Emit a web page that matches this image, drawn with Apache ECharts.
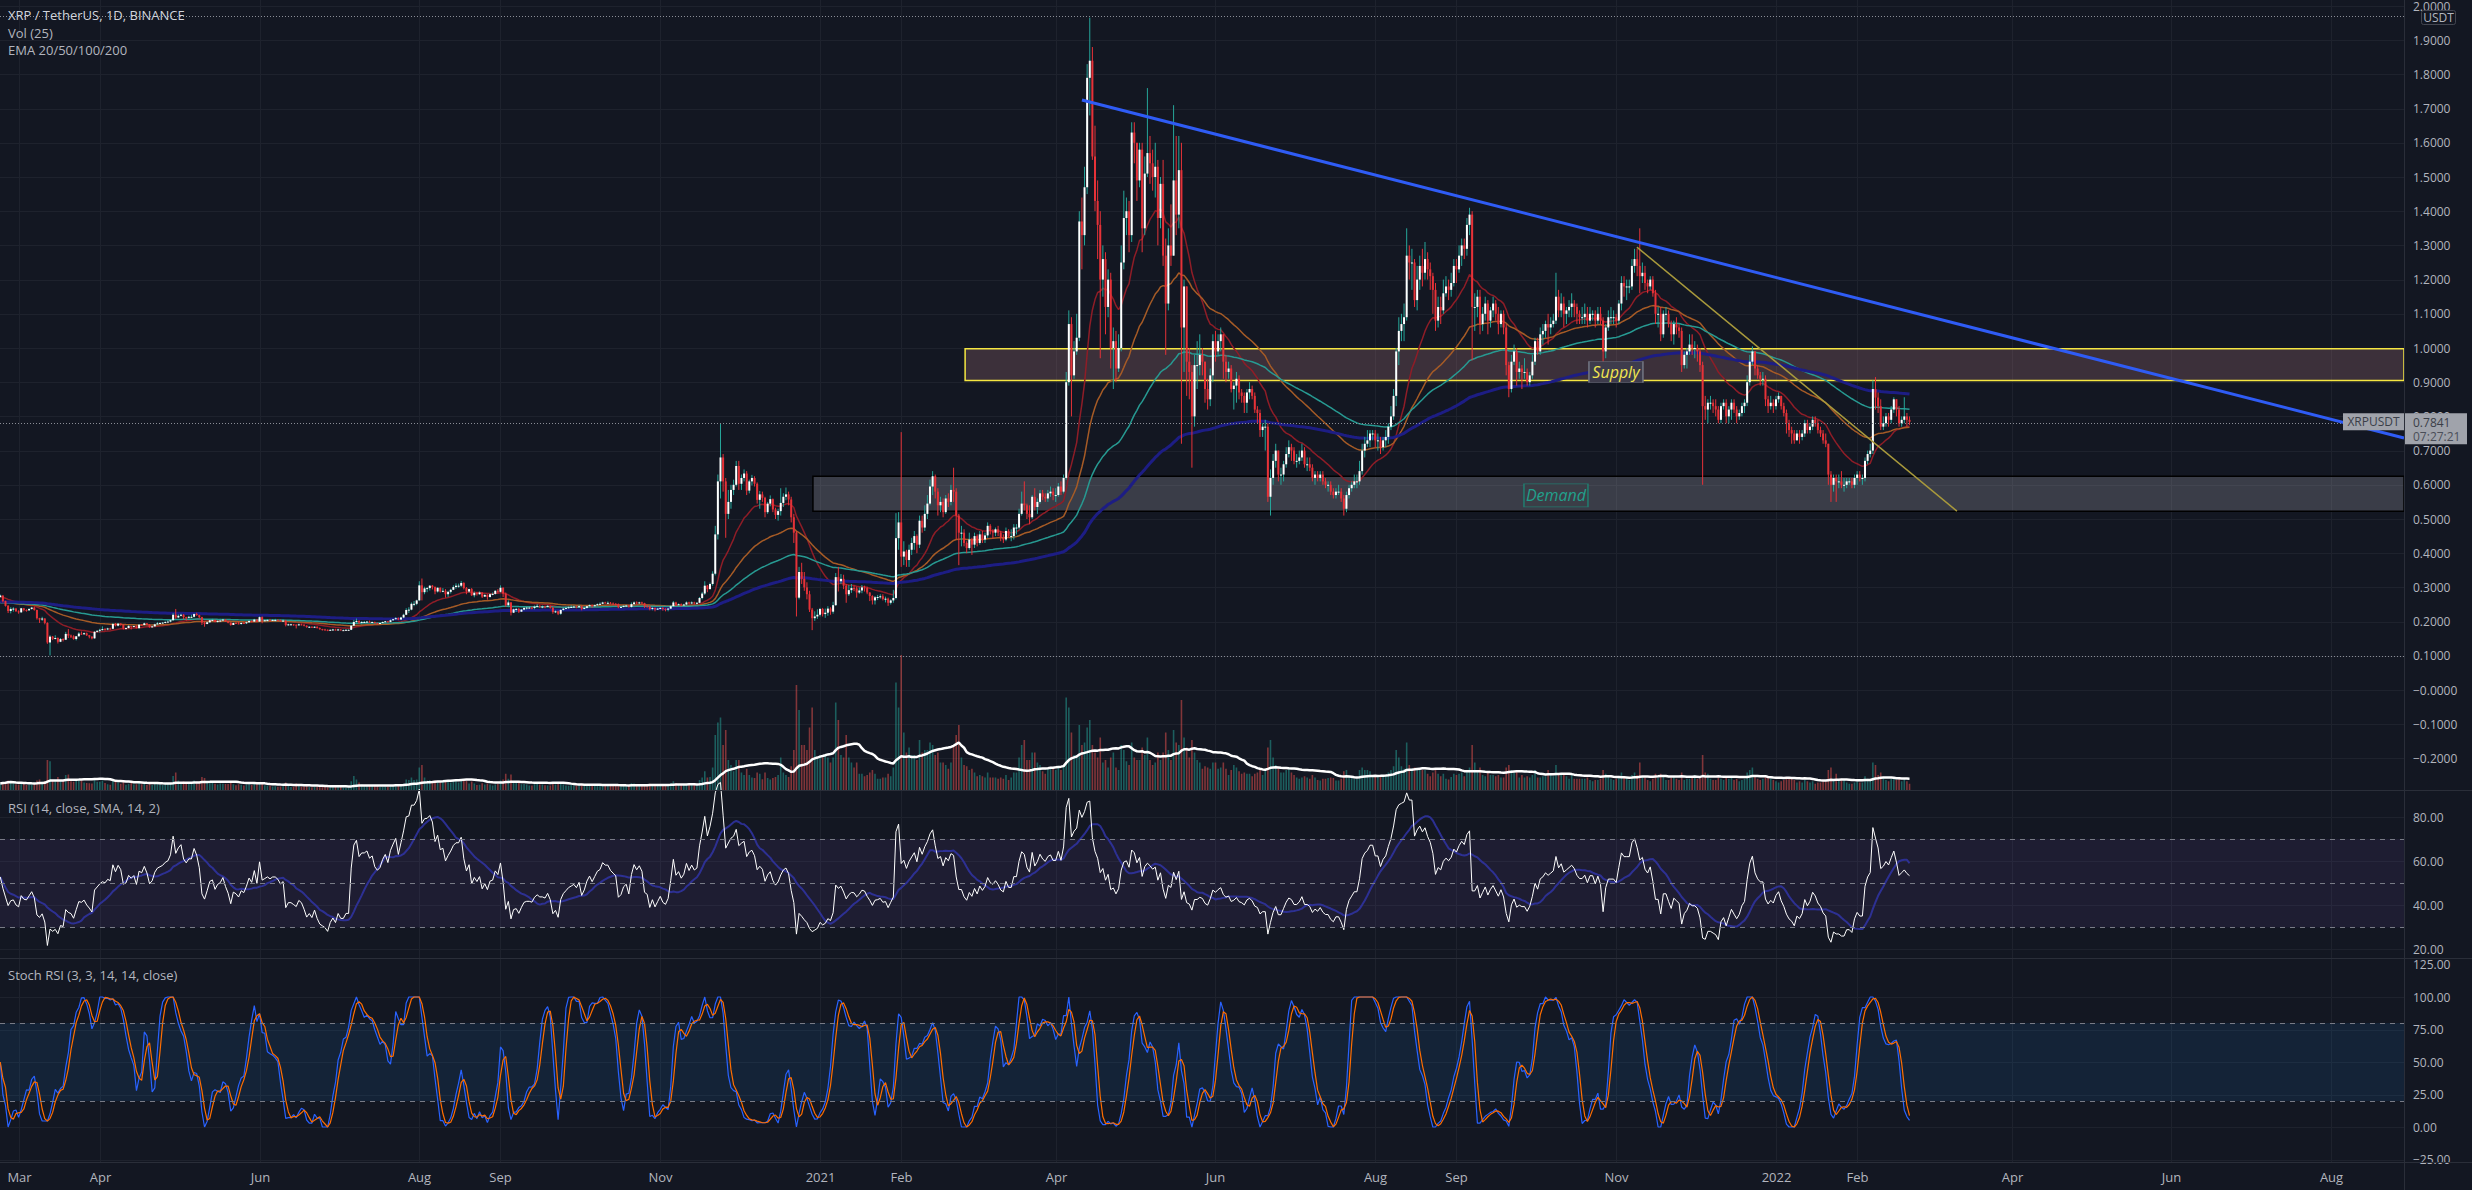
<!DOCTYPE html>
<html><head><meta charset="utf-8">
<script src="https://cdn.jsdelivr.net/npm/echarts@6/dist/echarts.min.js"></script>
<style>html,body{margin:0;padding:0;background:#131722;overflow:hidden}#c{width:2472px;height:1190px}</style>
</head><body><div id="c"></div><script>
// ---- daily candles: [close, high, low, volume(M XRP)] ; open = previous close ----
const firstOpen = 0.272;
const feb2020 = [[0.276,0.279,0.270,260],[0.260,0.277,0.256,300],[0.246,0.261,0.244,310],[0.231,0.248,0.225,380],[0.237,0.242,0.224,330],[0.238,0.242,0.229,300],[0.230,0.240,0.229,230]];
const mar2020 = [[0.227,0.233,0.223,220],[0.239,0.240,0.226,260],[0.234,0.240,0.230,240],[0.233,0.236,0.229,200],[0.237,0.239,0.231,210],[0.241,0.243,0.235,220],[0.234,0.244,0.232,230],[0.210,0.235,0.206,380],[0.206,0.211,0.196,420],[0.209,0.214,0.202,330],
[0.196,0.210,0.192,360],[0.139,0.198,0.135,1200],[0.156,0.160,0.101,1150],[0.150,0.158,0.146,400],[0.152,0.160,0.148,350],[0.141,0.154,0.136,520],[0.149,0.152,0.140,400],[0.147,0.151,0.142,380],[0.164,0.170,0.146,600],[0.159,0.178,0.152,620],
[0.157,0.162,0.152,350],[0.149,0.160,0.147,330],[0.157,0.158,0.145,380],[0.165,0.169,0.156,420],[0.164,0.171,0.161,380],[0.166,0.168,0.161,300],[0.160,0.168,0.158,280],[0.156,0.161,0.151,270],[0.151,0.157,0.148,260],[0.170,0.172,0.150,420],[0.173,0.175,0.168,330]];
const apr2020 = [[0.176,0.179,0.168,330],[0.178,0.186,0.174,380],[0.177,0.181,0.174,280],[0.180,0.182,0.175,230],[0.179,0.182,0.176,210],[0.193,0.196,0.178,420],[0.188,0.196,0.186,340],[0.194,0.196,0.186,300],[0.191,0.195,0.188,250],[0.180,0.192,0.177,330],
[0.181,0.183,0.178,210],[0.187,0.190,0.180,250],[0.185,0.187,0.177,280],[0.187,0.188,0.184,220],[0.181,0.189,0.180,230],[0.191,0.193,0.178,340],[0.190,0.193,0.188,230],[0.195,0.197,0.189,240],[0.191,0.196,0.189,210],[0.184,0.193,0.182,260],
[0.186,0.188,0.183,200],[0.192,0.194,0.185,240],[0.195,0.199,0.190,290],[0.196,0.198,0.193,230],[0.197,0.199,0.194,200],[0.199,0.201,0.195,230],[0.200,0.205,0.198,280],[0.204,0.206,0.198,260],[0.220,0.225,0.203,560],[0.212,0.237,0.208,700]];
const may2020 = [[0.217,0.221,0.210,380],[0.220,0.223,0.215,300],[0.213,0.222,0.207,340],[0.211,0.214,0.203,320],[0.214,0.217,0.209,280],[0.214,0.220,0.211,300],[0.222,0.224,0.212,380],[0.219,0.226,0.217,330],[0.213,0.220,0.210,280],[0.197,0.214,0.190,520],
[0.193,0.201,0.185,480],[0.198,0.200,0.192,300],[0.204,0.206,0.196,300],[0.205,0.208,0.201,280],[0.199,0.206,0.198,250],[0.202,0.204,0.197,220],[0.203,0.208,0.200,260],[0.206,0.208,0.201,250],[0.201,0.207,0.199,240],[0.197,0.202,0.195,240],
[0.190,0.198,0.188,290],[0.196,0.197,0.190,230],[0.195,0.198,0.193,190],[0.193,0.200,0.192,230],[0.196,0.198,0.191,210],[0.195,0.198,0.193,180],[0.198,0.200,0.193,220],[0.202,0.204,0.196,240],[0.200,0.204,0.198,200],[0.206,0.208,0.199,260],[0.200,0.207,0.199,230]];
const jun2020 = [[0.213,0.215,0.199,300],[0.203,0.215,0.195,320],[0.204,0.206,0.200,190],[0.205,0.207,0.200,180],[0.204,0.208,0.201,170],[0.205,0.207,0.202,140],[0.205,0.208,0.200,150],[0.204,0.207,0.202,130],[0.202,0.206,0.200,140],[0.203,0.206,0.200,150],
[0.190,0.205,0.186,300],[0.192,0.194,0.188,180],[0.192,0.194,0.190,120],[0.191,0.193,0.188,120],[0.190,0.192,0.180,260],[0.192,0.194,0.188,170],[0.191,0.194,0.189,140],[0.188,0.192,0.186,140],[0.184,0.189,0.182,160],[0.185,0.186,0.182,120],
[0.183,0.186,0.182,110],[0.185,0.186,0.182,130],[0.181,0.186,0.180,140],[0.178,0.183,0.176,170],[0.177,0.179,0.174,150],[0.176,0.179,0.174,140],[0.174,0.177,0.172,140],[0.176,0.177,0.173,110],[0.177,0.179,0.174,120],[0.175,0.179,0.174,120]];
const jul2020 = [[0.177,0.179,0.174,130],[0.175,0.178,0.174,120],[0.175,0.177,0.174,100],[0.176,0.178,0.174,90],[0.176,0.177,0.174,90],[0.188,0.190,0.175,350],[0.199,0.205,0.187,560],[0.202,0.209,0.195,420],[0.197,0.204,0.193,300],[0.199,0.201,0.192,220],
[0.199,0.202,0.197,170],[0.200,0.202,0.196,170],[0.198,0.203,0.196,180],[0.199,0.200,0.195,160],[0.196,0.200,0.194,160],[0.195,0.197,0.191,160],[0.196,0.197,0.193,120],[0.199,0.200,0.195,130],[0.201,0.202,0.197,140],[0.199,0.202,0.197,130],
[0.204,0.206,0.198,180],[0.207,0.208,0.202,180],[0.210,0.213,0.206,210],[0.206,0.212,0.204,170],[0.212,0.214,0.205,190],[0.220,0.223,0.210,260],[0.234,0.239,0.219,420],[0.235,0.242,0.225,400],[0.252,0.256,0.233,500],[0.252,0.260,0.245,400],[0.262,0.264,0.248,420]];
const aug2020 = [[0.306,0.318,0.261,900],[0.286,0.326,0.262,1000],[0.297,0.302,0.280,500],[0.298,0.301,0.286,380],[0.305,0.307,0.291,400],[0.301,0.307,0.294,340],[0.288,0.303,0.280,380],[0.299,0.300,0.285,320],[0.288,0.300,0.285,300],[0.290,0.298,0.286,330],
[0.280,0.295,0.270,380],[0.287,0.290,0.272,330],[0.293,0.296,0.282,300],[0.301,0.306,0.292,360],[0.305,0.312,0.296,380],[0.305,0.311,0.299,300],[0.313,0.319,0.301,420],[0.298,0.315,0.294,380],[0.288,0.301,0.280,380],[0.295,0.296,0.285,260],
[0.277,0.298,0.275,340],[0.284,0.288,0.271,260],[0.280,0.286,0.276,200],[0.285,0.288,0.279,210],[0.273,0.286,0.269,270],[0.278,0.280,0.272,220],[0.272,0.280,0.264,260],[0.280,0.282,0.270,220],[0.281,0.285,0.277,180],[0.290,0.292,0.279,220],[0.287,0.295,0.283,240]];
const sep2020 = [[0.299,0.306,0.285,380],[0.282,0.300,0.272,420],[0.248,0.285,0.243,650],[0.256,0.262,0.242,450],[0.226,0.257,0.218,620],[0.236,0.238,0.225,340],[0.237,0.240,0.228,300],[0.229,0.240,0.225,290],[0.235,0.237,0.228,230],[0.240,0.244,0.233,240],
[0.241,0.244,0.235,220],[0.241,0.245,0.238,180],[0.240,0.244,0.236,180],[0.244,0.247,0.236,230],[0.246,0.251,0.242,250],[0.244,0.248,0.240,220],[0.244,0.247,0.239,220],[0.243,0.246,0.239,190],[0.246,0.248,0.242,180],[0.241,0.247,0.238,180],
[0.228,0.243,0.223,320],[0.230,0.233,0.225,220],[0.223,0.232,0.219,260],[0.234,0.236,0.220,260],[0.238,0.242,0.232,230],[0.240,0.244,0.236,180],[0.242,0.245,0.238,170],[0.243,0.248,0.240,210],[0.244,0.247,0.240,180],[0.242,0.245,0.239,170]];
const oct2020 = [[0.245,0.249,0.240,200],[0.237,0.246,0.233,240],[0.240,0.242,0.236,160],[0.245,0.246,0.238,160],[0.248,0.250,0.243,190],[0.245,0.250,0.241,200],[0.248,0.250,0.243,170],[0.251,0.253,0.245,200],[0.252,0.256,0.249,190],[0.256,0.258,0.251,200],
[0.255,0.258,0.253,160],[0.255,0.259,0.251,190],[0.253,0.257,0.251,170],[0.252,0.256,0.249,170],[0.251,0.254,0.247,180],[0.242,0.253,0.239,240],[0.243,0.245,0.240,150],[0.246,0.248,0.242,160],[0.247,0.249,0.243,170],[0.243,0.249,0.241,190],
[0.251,0.256,0.241,270],[0.256,0.259,0.249,260],[0.254,0.259,0.251,210],[0.256,0.258,0.252,180],[0.254,0.258,0.251,180],[0.245,0.255,0.240,240],[0.244,0.248,0.241,210],[0.237,0.246,0.233,250],[0.240,0.242,0.233,230],[0.236,0.241,0.230,240],[0.238,0.240,0.234,180]];
const nov2020 = [[0.240,0.242,0.236,170],[0.237,0.242,0.232,190],[0.236,0.239,0.230,210],[0.238,0.240,0.230,220],[0.245,0.248,0.237,280],[0.256,0.260,0.244,350],[0.249,0.258,0.245,280],[0.251,0.253,0.246,220],[0.248,0.253,0.244,230],[0.250,0.252,0.246,200],
[0.256,0.259,0.248,250],[0.253,0.258,0.250,230],[0.256,0.259,0.251,220],[0.254,0.258,0.250,200],[0.255,0.257,0.250,190],[0.269,0.272,0.254,400],[0.282,0.287,0.265,500],[0.305,0.318,0.278,750],[0.295,0.307,0.286,500],[0.310,0.314,0.294,520],
[0.340,0.347,0.305,900],[0.455,0.480,0.335,2200],[0.610,0.630,0.440,2700],[0.680,0.780,0.560,2900],[0.610,0.690,0.580,1800],[0.515,0.620,0.445,2400],[0.550,0.585,0.500,1200],[0.585,0.600,0.530,1000],[0.600,0.615,0.570,750],[0.655,0.670,0.595,1200]];
const dec2020 = [[0.603,0.670,0.585,1200],[0.620,0.630,0.585,700],[0.633,0.645,0.610,600],[0.583,0.640,0.570,850],[0.610,0.615,0.575,600],[0.620,0.629,0.598,500],[0.603,0.625,0.595,480],[0.556,0.607,0.545,700],[0.572,0.582,0.530,650],[0.562,0.580,0.550,430],
[0.520,0.565,0.505,700],[0.545,0.550,0.515,480],[0.558,0.569,0.537,420],[0.528,0.560,0.520,480],[0.512,0.533,0.500,520],[0.523,0.530,0.495,600],[0.547,0.590,0.510,1300],[0.565,0.575,0.535,700],[0.572,0.592,0.555,600],[0.557,0.580,0.540,520],
[0.505,0.565,0.490,950],[0.460,0.515,0.430,1600],[0.270,0.465,0.215,4200],[0.345,0.360,0.265,3200],[0.325,0.372,0.310,1800],[0.300,0.345,0.290,1800],[0.280,0.315,0.265,1600],[0.235,0.290,0.228,2500],[0.210,0.240,0.175,3300],[0.215,0.230,0.202,1600],[0.220,0.236,0.208,1300]];
const jan2021 = [[0.237,0.240,0.215,1400],[0.222,0.240,0.215,1300],[0.226,0.238,0.211,1400],[0.238,0.245,0.217,1300],[0.229,0.242,0.220,1100],[0.248,0.258,0.223,1300],[0.330,0.342,0.246,3500],[0.318,0.360,0.288,2800],[0.325,0.339,0.310,1400],[0.305,0.337,0.295,1300],
[0.280,0.310,0.255,2200],[0.292,0.307,0.275,1300],[0.298,0.310,0.284,1100],[0.297,0.306,0.289,900],[0.285,0.302,0.270,1100],[0.291,0.300,0.281,650],[0.300,0.307,0.283,650],[0.298,0.305,0.288,550],[0.285,0.302,0.280,600],[0.275,0.286,0.260,700],
[0.262,0.277,0.250,800],[0.271,0.275,0.250,650],[0.272,0.278,0.263,450],[0.274,0.280,0.267,450],[0.266,0.280,0.262,500],[0.267,0.273,0.256,500],[0.255,0.270,0.246,650],[0.262,0.265,0.250,550],[0.269,0.293,0.255,900],[0.444,0.517,0.265,4300],[0.490,0.520,0.410,3300]];
const feb2021 = [[0.390,0.754,0.360,5400],[0.405,0.435,0.365,2300],[0.380,0.410,0.360,1500],[0.410,0.425,0.360,1700],[0.430,0.445,0.395,1400],[0.450,0.465,0.410,1400],[0.425,0.455,0.400,1200],[0.495,0.510,0.415,2000],[0.475,0.510,0.460,1500],[0.515,0.540,0.465,1600],
[0.545,0.570,0.500,1600],[0.595,0.615,0.540,1900],[0.625,0.640,0.570,1800],[0.580,0.630,0.560,1400],[0.540,0.590,0.510,1500],[0.550,0.565,0.520,1100],[0.520,0.560,0.505,1100],[0.560,0.570,0.515,1000],[0.550,0.575,0.535,850],[0.585,0.600,0.540,1100],
[0.580,0.650,0.550,1800],[0.510,0.590,0.440,2200],[0.460,0.515,0.365,2600],[0.460,0.480,0.420,1300],[0.430,0.470,0.420,1000],[0.415,0.435,0.400,950],[0.440,0.460,0.410,800],[0.425,0.445,0.395,850]];
const mar2021 = [[0.450,0.460,0.415,700],[0.430,0.455,0.420,550],[0.455,0.465,0.425,600],[0.440,0.465,0.430,550],[0.452,0.460,0.430,500],[0.480,0.490,0.445,700],[0.465,0.485,0.455,500],[0.460,0.470,0.442,500],[0.470,0.475,0.450,500],[0.460,0.480,0.450,450],
[0.445,0.465,0.435,500],[0.440,0.455,0.430,450],[0.465,0.475,0.435,600],[0.450,0.470,0.445,400],[0.450,0.470,0.435,500],[0.475,0.485,0.440,700],[0.475,0.485,0.455,700],[0.515,0.530,0.470,1300],[0.545,0.580,0.510,1800],[0.540,0.610,0.525,2000],
[0.515,0.545,0.500,1200],[0.505,0.540,0.485,1200],[0.565,0.570,0.500,1500],[0.535,0.590,0.525,1500],[0.550,0.560,0.515,1100],[0.575,0.585,0.545,1000],[0.565,0.585,0.555,750],[0.560,0.575,0.550,650],[0.575,0.585,0.550,850],[0.580,0.595,0.565,850],[0.570,0.590,0.555,850]];
const apr2021 = [[0.570,0.590,0.550,800],[0.595,0.605,0.565,900],[0.580,0.610,0.570,800],[0.620,0.630,0.575,1000],[0.900,0.930,0.615,3700],[1.070,1.110,0.890,3300],[0.920,1.090,0.800,2300],[0.990,1.020,0.910,1400],[1.030,1.100,0.980,1400],[1.370,1.400,1.020,2600],
[1.330,1.440,1.230,1800],[1.470,1.530,1.300,1900],[1.790,1.830,1.450,2500],[1.840,1.966,1.680,2800],[1.560,1.880,1.550,1800],[1.430,1.650,1.400,1500],[1.360,1.490,1.260,1300],[1.200,1.400,0.970,2100],[1.260,1.300,1.150,1100],[1.120,1.280,1.040,1200],
[1.200,1.230,1.090,900],[1.000,1.220,0.940,1300],[1.020,1.060,0.880,1500],[0.940,1.050,0.900,900],[1.000,1.040,0.930,800],[1.250,1.300,0.990,1800],[1.380,1.460,1.230,1600],[1.400,1.440,1.330,1150],[1.330,1.430,1.280,1000],[1.630,1.660,1.310,1900]];
const may2021 = [[1.600,1.660,1.540,1300],[1.490,1.600,1.430,1200],[1.580,1.600,1.470,1200],[1.350,1.600,1.280,1700],[1.510,1.560,1.330,1400],[1.570,1.760,1.500,2100],[1.540,1.620,1.480,1200],[1.500,1.580,1.460,1000],[1.530,1.600,1.440,1100],[1.380,1.550,1.300,1500],
[1.480,1.500,1.350,1200],[1.270,1.550,1.240,1500],[1.130,1.320,0.980,2300],[1.300,1.350,1.110,1600],[1.270,1.420,1.240,1200],[1.490,1.710,1.300,2400],[1.390,1.620,1.330,1900],[1.520,1.620,1.350,1800],[1.060,1.600,0.720,3600],[1.180,1.200,0.930,2100],
[0.960,1.150,0.860,1700],[0.930,1.000,0.850,1300],[0.800,0.950,0.650,2000],[0.950,0.980,0.770,1500],[0.950,1.020,0.880,1200],[0.980,1.040,0.920,1100],[0.960,1.000,0.920,850],[0.880,0.960,0.840,950],[0.850,0.910,0.820,900],[0.920,0.940,0.830,850],[1.020,1.040,0.900,1100]];
const jun2021 = [[0.990,1.050,0.960,1100],[1.020,1.040,0.980,850],[1.040,1.060,0.990,900],[0.960,1.040,0.910,1100],[0.930,0.980,0.900,850],[0.940,0.960,0.910,600],[0.880,0.950,0.870,800],[0.890,0.900,0.820,1000],[0.910,0.930,0.840,900],[0.870,0.920,0.850,750],
[0.860,0.880,0.840,650],[0.840,0.870,0.810,700],[0.870,0.880,0.810,650],[0.880,0.900,0.850,650],[0.860,0.890,0.850,550],[0.820,0.870,0.810,650],[0.810,0.830,0.780,700],[0.760,0.820,0.740,850],[0.770,0.780,0.740,600],[0.770,0.790,0.700,800],
[0.565,0.780,0.550,1700],[0.620,0.645,0.510,2000],[0.670,0.690,0.600,1300],[0.700,0.720,0.650,1000],[0.630,0.700,0.610,900],[0.630,0.650,0.600,700],[0.660,0.670,0.610,700],[0.690,0.710,0.650,800],[0.710,0.730,0.680,900],[0.700,0.720,0.670,700]];
const jul2021 = [[0.670,0.710,0.660,600],[0.670,0.690,0.650,500],[0.680,0.700,0.660,450],[0.700,0.720,0.670,500],[0.660,0.710,0.650,550],[0.660,0.680,0.640,500],[0.650,0.680,0.640,450],[0.620,0.660,0.610,600],[0.630,0.640,0.600,500],[0.620,0.640,0.610,400],
[0.630,0.640,0.610,380],[0.610,0.640,0.600,450],[0.600,0.620,0.590,450],[0.600,0.610,0.580,480],[0.580,0.610,0.570,500],[0.570,0.590,0.560,480],[0.580,0.590,0.560,380],[0.580,0.600,0.570,380],[0.560,0.590,0.550,450],[0.530,0.570,0.510,750],
[0.570,0.580,0.520,800],[0.590,0.600,0.560,600],[0.600,0.610,0.580,500],[0.610,0.630,0.590,450],[0.610,0.630,0.590,450],[0.640,0.670,0.600,800],[0.700,0.720,0.630,900],[0.720,0.740,0.680,800],[0.730,0.760,0.710,800],[0.750,0.760,0.710,750],[0.750,0.760,0.730,550]];
const aug2021 = [[0.730,0.760,0.710,550],[0.730,0.750,0.700,550],[0.710,0.740,0.690,600],[0.730,0.740,0.700,550],[0.740,0.760,0.710,600],[0.770,0.780,0.720,700],[0.800,0.830,0.760,800],[0.860,0.880,0.790,950],[0.990,1.000,0.830,1600],[1.050,1.090,0.950,1300],
[1.070,1.100,1.020,950],[1.090,1.130,1.020,850],[1.270,1.350,1.080,1900],[1.250,1.300,1.200,1000],[1.250,1.290,1.170,850],[1.140,1.260,1.120,900],[1.200,1.240,1.110,850],[1.240,1.270,1.170,800],[1.220,1.290,1.180,800],[1.260,1.310,1.200,800],
[1.230,1.280,1.200,650],[1.210,1.250,1.170,550],[1.170,1.220,1.100,700],[1.080,1.190,1.050,850],[1.120,1.150,1.060,650],[1.110,1.150,1.070,550],[1.160,1.200,1.100,650],[1.180,1.210,1.150,450],[1.170,1.200,1.140,420],[1.190,1.220,1.150,520],[1.240,1.260,1.180,650]];
const sep2021 = [[1.230,1.260,1.190,600],[1.270,1.300,1.220,650],[1.300,1.320,1.240,700],[1.290,1.320,1.260,550],[1.360,1.380,1.270,800],[1.390,1.410,1.330,900],[1.120,1.400,0.964,1800],[1.120,1.160,1.050,1100],[1.150,1.170,1.090,800],[1.070,1.170,1.040,900],
[1.100,1.120,1.050,600],[1.130,1.150,1.080,550],[1.080,1.140,1.040,700],[1.110,1.120,1.060,600],[1.130,1.150,1.090,600],[1.100,1.140,1.080,550],[1.070,1.120,1.040,600],[1.100,1.110,1.060,500],[1.060,1.110,1.040,500],[0.950,1.070,0.920,900],
[0.880,0.960,0.856,1000],[0.960,0.980,0.870,800],[0.990,1.010,0.950,700],[0.930,1.000,0.890,800],[0.940,0.960,0.910,500],[0.930,0.950,0.880,600],[0.930,0.970,0.910,500],[0.900,0.940,0.890,550],[0.920,0.930,0.890,500],[0.960,0.980,0.910,600]];
const oct2021 = [[1.020,1.030,0.950,800],[0.990,1.030,0.980,500],[1.040,1.060,0.980,500],[1.050,1.070,1.010,550],[1.070,1.080,1.030,550],[1.060,1.100,1.010,800],[1.070,1.090,1.040,600],[1.080,1.100,1.060,550],[1.150,1.220,1.070,1000],[1.110,1.170,1.090,650],
[1.130,1.160,1.090,600],[1.100,1.150,1.060,650],[1.110,1.120,1.070,550],[1.120,1.140,1.090,450],[1.130,1.160,1.090,600],[1.120,1.140,1.090,450],[1.100,1.130,1.070,450],[1.090,1.110,1.070,450],[1.090,1.120,1.070,450],[1.100,1.130,1.070,450],
[1.080,1.120,1.060,500],[1.100,1.120,1.070,400],[1.100,1.110,1.080,350],[1.080,1.110,1.060,400],[1.100,1.120,1.070,400],[1.080,1.120,1.070,450],[0.990,1.090,0.955,800],[1.060,1.070,0.970,650],[1.090,1.110,1.050,550],[1.090,1.120,1.070,450],[1.090,1.110,1.070,400]];
const nov2021 = [[1.080,1.100,1.060,450],[1.130,1.140,1.070,550],[1.190,1.210,1.110,700],[1.180,1.210,1.150,550],[1.180,1.200,1.140,500],[1.180,1.200,1.160,400],[1.240,1.260,1.170,600],[1.260,1.290,1.220,700],[1.240,1.290,1.210,600],[1.210,1.350,1.160,1100],
[1.220,1.250,1.190,550],[1.190,1.240,1.170,500],[1.180,1.200,1.160,400],[1.200,1.210,1.170,350],[1.160,1.210,1.150,450],[1.100,1.170,1.070,650],[1.100,1.120,1.060,500],[1.040,1.120,1.020,650],[1.100,1.110,1.030,550],[1.100,1.120,1.080,400],
[1.070,1.110,1.060,400],[1.040,1.080,1.020,500],[1.070,1.080,1.010,550],[1.060,1.090,1.040,450],[1.050,1.070,1.030,400],[0.950,1.060,0.930,700],[0.980,0.990,0.940,400],[0.990,1.000,0.940,450],[1.010,1.040,0.980,450],[1.000,1.040,0.980,500]];
const dec2021 = [[1.000,1.020,0.970,600],[0.990,1.010,0.960,450],[0.950,1.000,0.930,550],[0.830,0.960,0.600,1400],[0.820,0.860,0.790,700],[0.840,0.850,0.780,650],[0.840,0.860,0.820,450],[0.830,0.850,0.810,400],[0.820,0.850,0.800,400],[0.790,0.830,0.780,500],
[0.830,0.840,0.780,450],[0.840,0.850,0.820,400],[0.800,0.850,0.780,550],[0.820,0.830,0.780,450],[0.840,0.850,0.790,550],[0.820,0.850,0.810,400],[0.800,0.830,0.780,450],[0.810,0.820,0.790,350],[0.830,0.840,0.800,400],[0.840,0.850,0.810,450],
[0.900,0.920,0.830,700],[0.960,0.980,0.890,800],[0.990,1.005,0.950,900],[0.940,0.990,0.920,600],[0.920,0.950,0.910,450],[0.910,0.930,0.890,400],[0.910,0.930,0.890,450],[0.850,0.920,0.830,600],[0.830,0.860,0.810,500],[0.840,0.860,0.820,450],[0.830,0.850,0.810,400]];
const jan2022 = [[0.850,0.860,0.820,350],[0.860,0.870,0.840,300],[0.830,0.860,0.820,350],[0.810,0.840,0.800,400],[0.780,0.820,0.750,500],[0.760,0.790,0.740,450],[0.750,0.770,0.720,450],[0.730,0.760,0.720,400],[0.750,0.760,0.730,300],[0.740,0.760,0.720,350],
[0.750,0.760,0.730,300],[0.780,0.790,0.740,400],[0.760,0.790,0.750,350],[0.770,0.780,0.750,300],[0.790,0.800,0.760,350],[0.780,0.800,0.770,250],[0.760,0.790,0.750,300],[0.750,0.770,0.740,300],[0.730,0.760,0.720,350],[0.720,0.750,0.710,350],
[0.630,0.720,0.600,800],[0.600,0.640,0.550,900],[0.620,0.630,0.580,450],[0.610,0.630,0.550,650],[0.610,0.630,0.590,400],[0.600,0.640,0.590,450],[0.600,0.620,0.580,400],[0.610,0.620,0.590,300],[0.610,0.620,0.600,250],[0.600,0.620,0.590,250],[0.620,0.630,0.590,300]];
const feb2022 = [[0.630,0.640,0.600,350],[0.620,0.640,0.610,300],[0.620,0.630,0.600,300],[0.670,0.680,0.610,550],[0.690,0.700,0.660,450],[0.700,0.720,0.680,400],[0.880,0.905,0.690,1100],[0.855,0.915,0.820,1000],[0.830,0.870,0.810,600],[0.770,0.850,0.760,700],
[0.780,0.800,0.760,500],[0.800,0.810,0.770,400],[0.790,0.810,0.770,350],[0.820,0.830,0.780,450],[0.850,0.856,0.810,500],[0.820,0.850,0.800,400],[0.780,0.830,0.770,450],[0.790,0.800,0.770,350],[0.800,0.856,0.780,450],[0.790,0.810,0.770,350],[0.784,0.800,0.775,250]];

const monthBlocks = [['2020-02-23',feb2020],['2020-03-01',mar2020],['2020-04-01',apr2020],['2020-05-01',may2020],['2020-06-01',jun2020],['2020-07-01',jul2020],['2020-08-01',aug2020],['2020-09-01',sep2020],['2020-10-01',oct2020],['2020-11-01',nov2020],['2020-12-01',dec2020],
['2021-01-01',jan2021],['2021-02-01',feb2021],['2021-03-01',mar2021],['2021-04-01',apr2021],['2021-05-01',may2021],['2021-06-01',jun2021],['2021-07-01',jul2021],['2021-08-01',aug2021],['2021-09-01',sep2021],['2021-10-01',oct2021],['2021-11-01',nov2021],['2021-12-01',dec2021],
['2022-01-01',jan2022],['2022-02-01',feb2022]];

// indicator starting states at its first bar
const emaPeriods = [20, 50, 100, 200];
const emaStart = [0.272, 0.256, 0.255, 0.258];
const rsiSeed = [0.0062, 0.0058];
const lastPrice = 0.7841;

// axis ticks / labels
const monthTicks = ['2020-03-01','2020-04-01','2020-06-01','2020-08-01','2020-09-01','2020-11-01','2021-01-01','2021-02-01','2021-04-01','2021-06-01','2021-08-01','2021-09-01','2021-11-01','2022-01-01','2022-02-01','2022-04-01','2022-06-01','2022-08-01'];
const monthLabels = ['Mar','Apr','Jun','Aug','Sep','Nov','2021','Feb','Apr','Jun','Aug','Sep','Nov','2022','Feb','Apr','Jun','Aug'];
const priceGridTicks = [-0.2,-0.1,0,0.1,0.2,0.3,0.4,0.5,0.6,0.7,0.8,0.9,1.0,1.1,1.2,1.3,1.4,1.5,1.6,1.7,1.8,1.9,2.0];
const rsiGridTicks = [20,40,60,80];
const stochGridTicks = [100,75,50,25,0,-25];

// ---------- build ----------
const DAY = 86400000, T0 = Date.UTC(2021,0,1);
function dayOff(s){const p=s.split('-').map(Number);return Math.round((Date.UTC(p[0],p[1]-1,p[2])-T0)/DAY);}
const bars = [];
monthBlocks.forEach(([s,arr])=>{const o=dayOff(s);arr.forEach((r,i)=>bars.push({x:o+i,c:r[0],h:r[1],l:r[2],v:r[3]}));});
bars.sort((a,b)=>a.x-b.x);
let prevC = firstOpen;
bars.forEach(b=>{b.o=prevC;prevC=b.c;b.h=Math.max(b.h,b.o,b.c);b.l=Math.min(b.l,b.o,b.c);});

function sma(a,n){return a.map((_,i)=>{const s=Math.max(0,i-n+1);let t=0;for(let j=s;j<=i;j++)t+=a[j];return t/(i-s+1);});}
const emas = emaPeriods.map((p,k)=>{const a=2/(p+1);let e=emaStart[k];return bars.map((b,i)=>{if(i>0)e=a*b.c+(1-a)*e;return [b.x,e];});});
let ag=rsiSeed[0], al=rsiSeed[1];
const rsi = bars.map(b=>{const ch=b.c-b.o;ag=(ag*13+Math.max(ch,0))/14;al=(al*13+Math.max(-ch,0))/14;return al===0?100:100-100/(1+ag/al);});
const rsiMA = sma(rsi,14);
const stoch = rsi.map((r,i)=>{const s=Math.max(0,i-13);let mn=Infinity,mx=-Infinity;for(let j=s;j<=i;j++){mn=Math.min(mn,rsi[j]);mx=Math.max(mx,rsi[j]);}return mx>mn?(r-mn)/(mx-mn)*100:50;});
const kLine = sma(stoch,3), dLine = sma(kLine,3);
const volMA = sma(bars.map(b=>b.v),25);
const maxHigh = Math.max(...bars.map(b=>b.h)), minLow = Math.min(...bars.map(b=>b.l));
const X = bars.map(b=>b.x);
const zip = a => a.map((v,i)=>[X[i],v]);

// ---------- layout ----------
const XMIN=-313.1, XMAX=604.8, PW=2404;
const Y0=690, PX=342, RS=2.208;
const FONT='"Open Sans", "Noto Sans", sans-serif';
const GRID='#1e222d', TXT='#b2b5be', UP='#26a69a', DN='#e63238';
const EMA_C=['#8e1d27','#a65b26','#279a92','#1d1d84'], EMA_W=[1.5,1.5,1.5,3];

function hLines(idx, vals){return {type:'custom',xAxisIndex:idx,yAxisIndex:idx,silent:true,z:0,clip:false,animation:false,
  data:vals.map(v=>[XMIN,v]),
  renderItem:(p,api)=>{const pt=api.coord([XMIN,api.value(1)]);const cs=p.coordSys;const y=Math.round(pt[1])+0.5;
    return {type:'line',shape:{x1:cs.x,y1:y,x2:cs.x+cs.width,y2:y},style:{stroke:GRID,lineWidth:1}};}};}

function fmtPrice(v){if(v<-0.25||v>2.05)return '';if(Math.abs(v)<1e-9)return '\u22120.0000';return (v<0?'\u2212':'')+Math.abs(v).toFixed(4);}
function fmtStoch(v){if(Math.abs(v)<1e-9)return '0.00';return (v<0?'\u2212':'')+Math.abs(v).toFixed(2);}
function fmtRsi(v){return (v<10||v>90)?'':v.toFixed(2);}
const axLab = f => ({margin:9,color:TXT,fontSize:12,fontFamily:FONT,formatter:f});

const series = [
  hLines(0, priceGridTicks), hLines(2, rsiGridTicks), hLines(3, stochGridTicks),
  {type:'custom',xAxisIndex:4,yAxisIndex:4,silent:true,z:0,clip:false,animation:false,
   data:monthTicks.map((d,i)=>[dayOff(d),i]),
   renderItem:(p,api)=>{const x=Math.round(api.coord([api.value(0),0])[0])+0.5;const i=api.value(1);
     return {type:'group',children:[
       {type:'line',shape:{x1:x,y1:0,x2:x,y2:1162},style:{stroke:GRID,lineWidth:1}},
       {type:'text',x:x,y:1177,style:{text:monthLabels[i],fill:TXT,fontSize:13,fontFamily:FONT,align:'center',verticalAlign:'middle'}}]};}},
  // volume
  {type:'custom',xAxisIndex:1,yAxisIndex:1,silent:true,z:1,animation:false,
   data:bars.map(b=>[b.x,b.v,b.c>=b.o?1:0]),
   renderItem:(p,api)=>{const a=api.coord([api.value(0),api.value(1)]),b=api.coord([api.value(0),0]);
     return {type:'rect',shape:{x:a[0]-0.8,y:a[1],width:1.6,height:b[1]-a[1]},style:{fill:api.value(2)?'rgba(38,166,154,0.5)':'rgba(239,83,80,0.5)'}};}},
  {type:'line',xAxisIndex:1,yAxisIndex:1,data:zip(volMA),symbol:'none',silent:true,z:2,animation:false,lineStyle:{color:'#ffffff',width:2.5}},
];
emas.forEach((d,k)=>series.push({type:'line',xAxisIndex:0,yAxisIndex:0,data:d,symbol:'none',silent:true,z:2,animation:false,lineStyle:{color:EMA_C[k],width:EMA_W[k]}}));
series.push({type:'custom',xAxisIndex:0,yAxisIndex:0,silent:true,z:3,animation:false,
  data:bars.map(b=>[b.x,b.o,b.c,b.l,b.h]),
  renderItem:(p,api)=>{const x=api.value(0),o=api.value(1),c=api.value(2),l=api.value(3),h=api.value(4);
    const pl=api.coord([x,l]),ph=api.coord([x,h]),po=api.coord([x,o]),pc=api.coord([x,c]);const up=c>=o;
    const top=Math.min(po[1],pc[1]);const hh=Math.max(Math.abs(po[1]-pc[1]),1);const cx=pl[0];
    return {type:'group',children:[
      {type:'line',shape:{x1:cx,y1:ph[1],x2:cx,y2:pl[1]},style:{stroke:up?UP:DN,lineWidth:1}},
      {type:'rect',shape:{x:cx-1,y:top,width:2,height:hh},style:{fill:up?'#ffffff':DN}}]};}});
// drawings
series.push({type:'line',xAxisIndex:0,yAxisIndex:0,data:[[100.0,1.725],[XMAX,0.737]],symbol:'none',silent:true,z:6,animation:false,
  lineStyle:{color:'#2f5cf5',width:3},
  markArea:{silent:true,data:[
    [{xAxis:55.4,yAxis:0.998,itemStyle:{color:'rgba(180,120,130,0.255)',borderColor:'#f5e642',borderWidth:1.5}},{xAxis:XMAX,yAxis:0.905}],
    [{xAxis:-2.7,yAxis:0.625,itemStyle:{color:'rgba(160,162,172,0.28)',borderColor:'#000000',borderWidth:1.5}},{xAxis:XMAX,yAxis:0.523}]]},
  markLine:{silent:true,symbol:['none','none'],label:{show:false},lineStyle:{color:'#8a8d96',type:[1,2],width:1},
    data:[{yAxis:maxHigh},{yAxis:minLow},{yAxis:lastPrice}]},
  markPoint:{silent:true,data:[
    {coord:[303.9,0.930],symbol:'rect',symbolSize:[54,21],itemStyle:{color:'#3e3c4c',borderColor:'#707380',borderWidth:1},
     label:{show:true,position:'inside',formatter:'Supply',color:'#f2e650',fontSize:16,fontStyle:'italic',fontFamily:FONT}},
    {coord:[281.0,0.569],symbol:'rect',symbolSize:[64,23],itemStyle:{color:'#3b3e47',borderColor:'#23786d',borderWidth:1},
     label:{show:true,position:'inside',formatter:'Demand',color:'#22a08c',fontSize:16,fontStyle:'italic',fontFamily:FONT}}]}});
series.push({type:'line',xAxisIndex:0,yAxisIndex:0,data:[[311.9,1.295],[434.1,0.523]],symbol:'none',silent:true,z:6,animation:false,
  lineStyle:{color:'#a99a3c',width:1.5}});
// RSI
series.push({type:'line',xAxisIndex:2,yAxisIndex:2,data:zip(rsiMA),symbol:'none',silent:true,z:2,animation:false,
  lineStyle:{color:'rgba(48,52,165,0.85)',width:2},
  markArea:{silent:true,itemStyle:{color:'rgba(126,87,194,0.1)'},data:[[{yAxis:70},{yAxis:30}]]},
  markLine:{silent:true,symbol:['none','none'],label:{show:false},lineStyle:{color:'#787b86',type:[5,5],width:1},data:[{yAxis:70},{yAxis:50},{yAxis:30}]}});
series.push({type:'line',xAxisIndex:2,yAxisIndex:2,data:zip(rsi),symbol:'none',silent:true,z:3,animation:false,lineStyle:{color:'#ffffff',width:1}});
// Stoch RSI
series.push({type:'line',xAxisIndex:3,yAxisIndex:3,data:zip(kLine),symbol:'none',silent:true,z:3,animation:false,
  lineStyle:{color:'#2962ff',width:1.2},
  markArea:{silent:true,itemStyle:{color:'rgba(33,150,243,0.1)'},data:[[{yAxis:80},{yAxis:20}]]},
  markLine:{silent:true,symbol:['none','none'],label:{show:false},lineStyle:{color:'#787b86',type:[5,5],width:1},data:[{yAxis:80},{yAxis:20}]}});
series.push({type:'line',xAxisIndex:3,yAxisIndex:3,data:zip(dLine),symbol:'none',silent:true,z:4,animation:false,lineStyle:{color:'#ff6d00',width:1.2}});

const gridDef = (top,height)=>({left:0,top:top,width:PW,height:height,outerBoundsMode:'none',containLabel:false});
const option = {
  backgroundColor:'#131722', animation:false, textStyle:{fontFamily:FONT},
  grid:[gridDef(Y0-2.1*PX,2.4*PX), gridDef(600,190), gridDef(817-20*RS,100*RS), gridDef(964.5,195), gridDef(0,1190)],
  xAxis:[0,1,2,3,4].map(i=>({gridIndex:i,type:'value',min:XMIN,max:XMAX,show:false})),
  yAxis:[
    {gridIndex:0,type:'value',position:'right',min:-0.3,max:2.1,interval:0.1,axisLine:{show:false},axisTick:{show:false},splitLine:{show:false},axisLabel:axLab(fmtPrice)},
    {gridIndex:1,type:'value',min:0,max:7600,show:false},
    {gridIndex:2,type:'value',position:'right',min:0,max:100,interval:20,axisLine:{show:false},axisTick:{show:false},splitLine:{show:false},axisLabel:axLab(fmtRsi)},
    {gridIndex:3,type:'value',position:'right',min:-25,max:125,interval:25,axisLine:{show:false},axisTick:{show:false},splitLine:{show:false},axisLabel:axLab(fmtStoch)},
    {gridIndex:4,type:'value',min:0,max:1190,inverse:true,show:false}
  ],
  series:series
};
const chart = echarts.init(document.getElementById('c'), null, {renderer:'svg', width:2472, height:1190});
chart.setOption(option);

const py = chart.convertToPixel({yAxisIndex:0}, lastPrice);
const SEP='#2a2e39';
const txt=(x,y,s,fill,size,extra)=>Object.assign({type:'text',x:x,y:y,z:100,silent:true,style:{text:s,fill:fill,fontSize:size,fontFamily:FONT,verticalAlign:'middle'}},extra||{});
const graphic = [
  {type:'line',z:100,silent:true,shape:{x1:0,y1:790.5,x2:2472,y2:790.5},style:{stroke:SEP,lineWidth:1}},
  {type:'line',z:100,silent:true,shape:{x1:0,y1:958.5,x2:2472,y2:958.5},style:{stroke:SEP,lineWidth:1}},
  {type:'line',z:100,silent:true,shape:{x1:0,y1:1162.5,x2:2472,y2:1162.5},style:{stroke:SEP,lineWidth:1}},
  {type:'line',z:100,silent:true,shape:{x1:2404.5,y1:0,x2:2404.5,y2:1190},style:{stroke:SEP,lineWidth:1}},
  txt(8,15,'XRP / TetherUS, 1D, BINANCE','#d1d4dc',13),
  txt(8,33,'Vol (25)',TXT,13),
  txt(8,50,'EMA 20/50/100/200',TXT,13),
  txt(8,808,'RSI (14, close, SMA, 14, 2)',TXT,13),
  txt(8,975,'Stoch RSI (3, 3, 14, 14, close)',TXT,13),
  {type:'rect',z:100,silent:true,shape:{x:2421.5,y:10.5,width:34,height:14,r:2},style:{fill:'#131722',stroke:'#434651',lineWidth:1}},
  {type:'text',z:101,silent:true,x:2438.5,y:17.5,style:{text:'USDT',fill:TXT,fontSize:12,fontFamily:FONT,align:'center',verticalAlign:'middle'}},
  {type:'rect',z:100,silent:true,shape:{x:2343,y:py-8.5,width:61,height:17},style:{fill:'#a0a3ab'}},
  {type:'text',z:101,silent:true,x:2373.5,y:py,style:{text:'XRPUSDT',fill:'#3a3e48',fontSize:12,fontFamily:FONT,align:'center',verticalAlign:'middle'}},
  {type:'rect',z:100,silent:true,shape:{x:2405,y:py-8.5,width:62,height:31},style:{fill:'#a0a3ab'}},
  {type:'text',z:101,silent:true,x:2413,y:py+0.5,style:{text:'0.7841',fill:'#3a3e48',fontSize:12,fontFamily:FONT,align:'left',verticalAlign:'middle'}},
  {type:'text',z:101,silent:true,x:2413,y:py+15,style:{text:'07:27:21',fill:'#4a4e58',fontSize:12,fontFamily:FONT,align:'left',verticalAlign:'middle'}}
];
chart.setOption({graphic:graphic});
</script></body></html>
